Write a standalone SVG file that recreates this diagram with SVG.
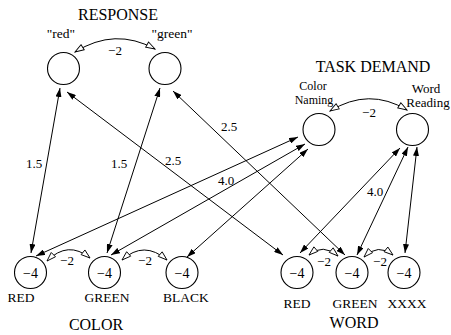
<svg xmlns="http://www.w3.org/2000/svg" width="451" height="335" viewBox="0 0 451 335" font-family="'Liberation Serif', 'Times New Roman', serif">
  <style>
    text { font-family: "Liberation Serif", "Times New Roman", serif; fill: #000; text-anchor: middle; }
    .title { font-size: 16px; }
    .lbl { font-size: 13.5px; }
    .small { font-size: 12px; }
    .mid { font-size: 13px; }
    .w { font-size: 13px; }
    .bias { font-size: 14px; }
    circle.unit { fill: #fff; stroke: #000; stroke-width: 1.1; }
    .link { fill: none; stroke: #000; stroke-width: 1; marker-start: url(#solid); marker-end: url(#solid); }
    .inhib { fill: none; stroke: #000; stroke-width: 1; marker-start: url(#open); marker-end: url(#open); }
  </style>
  <defs>
    <marker id="solid" viewBox="0 0 9 6" refX="9" refY="3" markerWidth="9" markerHeight="6" markerUnits="userSpaceOnUse" orient="auto-start-reverse">
      <path d="M0,0 L9,3 L0,6 z" fill="#000"/>
    </marker>
    <marker id="open" viewBox="-1 -1 11 8" refX="9" refY="3" markerWidth="11" markerHeight="8" markerUnits="userSpaceOnUse" orient="auto-start-reverse">
      <path d="M0,0 L9,3 L0,6 z" fill="#fff" stroke="#000" stroke-width="0.9"/>
    </marker>
  </defs>

  <!-- layer titles -->
  <text class="title" x="118" y="20">RESPONSE</text>
  <text class="title" x="373" y="72">TASK DEMAND</text>
  <text class="title" x="96" y="330">COLOR</text>
  <text class="title" x="354" y="328">WORD</text>

  <!-- weighted connections -->
  <g id="connectors">
    <path class="link" d="M60,88 L31,253"/>
    <path class="link" d="M160,88 L107,253"/>
    <path class="link" d="M67,92 L283,255"/>
    <path class="link" d="M173,91 L345,255"/>
    <path class="link" d="M298,137 L36,256"/>
    <path class="link" d="M305,144 L111,255"/>
    <path class="link" d="M308,149 L187,257"/>
    <path class="link" d="M400,148 L300,253"/>
    <path class="link" d="M408,147 L357,255"/>
    <path class="link" d="M417,147 L405,253"/>

    <!-- lateral inhibition -->
    <path class="inhib" d="M75,52 Q115,27 155,49"/>
    <path class="inhib" d="M330,111 Q369,87 407,110"/>
    <path class="inhib" d="M47,261 Q68,240 90,258"/>
    <path class="inhib" d="M122,260 Q144,240 167,260"/>
    <path class="inhib" d="M309,255 Q323,243 338,256"/>
    <path class="inhib" d="M364,257 Q378,243 393,255"/>

    <text class="mid" x="34" y="168">1.5</text>
    <text class="mid" x="119" y="168">1.5</text>
    <text class="mid" x="173" y="165">2.5</text>
    <text class="mid" x="229" y="131">2.5</text>
    <text class="mid" x="226" y="185">4.0</text>
    <text class="mid" x="375" y="196">4.0</text>
    <text class="mid" x="115" y="55">−2</text>
    <text class="mid" x="369" y="117">−2</text>
    <text class="mid" x="67" y="265">−2</text>
    <text class="mid" x="145" y="265">−2</text>
    <text class="mid" x="324" y="266">−2</text>
    <text class="mid" x="380" y="266">−2</text>
  </g>

  <!-- response units -->
  <g id="resp-red">
    <circle class="unit" cx="63.5" cy="68.5" r="16"/>
    <text class="lbl" x="61" y="38">"red"</text>
  </g>
  <g id="resp-green">
    <circle class="unit" cx="165" cy="68.5" r="16"/>
    <text class="lbl" x="172" y="38">"green"</text>
  </g>

  <!-- task demand units -->
  <g id="task-color">
    <circle class="unit" cx="319" cy="129.5" r="16"/>
    <text class="small" x="313" y="90">Color</text>
    <text class="small" x="314" y="104">Naming</text>
  </g>
  <g id="task-word">
    <circle class="unit" cx="412.5" cy="129.5" r="16"/>
    <text class="w" x="426" y="93">Word</text>
    <text class="w" x="428" y="107">Reading</text>
  </g>

  <!-- color input units -->
  <g id="color-red">
    <circle class="unit" cx="30.5" cy="272.5" r="16"/>
    <text class="bias" x="30.5" y="278">−4</text>
    <text class="lbl" x="21" y="302">RED</text>
  </g>
  <g id="color-green">
    <circle class="unit" cx="104.5" cy="272.5" r="16"/>
    <text class="bias" x="104.5" y="278">−4</text>
    <text class="lbl" x="107" y="302">GREEN</text>
  </g>
  <g id="color-black">
    <circle class="unit" cx="182" cy="272.5" r="16"/>
    <text class="bias" x="182" y="278">−4</text>
    <text class="lbl" x="186" y="302">BLACK</text>
  </g>

  <!-- word input units -->
  <g id="word-red">
    <circle class="unit" cx="297" cy="272.5" r="16"/>
    <text class="bias" x="297" y="278">−4</text>
    <text class="lbl" x="297" y="308">RED</text>
  </g>
  <g id="word-green">
    <circle class="unit" cx="352" cy="272.5" r="16"/>
    <text class="bias" x="352" y="278">−4</text>
    <text class="lbl" x="355" y="308">GREEN</text>
  </g>
  <g id="word-xxxx">
    <circle class="unit" cx="404" cy="272.5" r="16"/>
    <text class="bias" x="404" y="278">−4</text>
    <text class="lbl" x="407" y="308">XXXX</text>
  </g>
</svg>
